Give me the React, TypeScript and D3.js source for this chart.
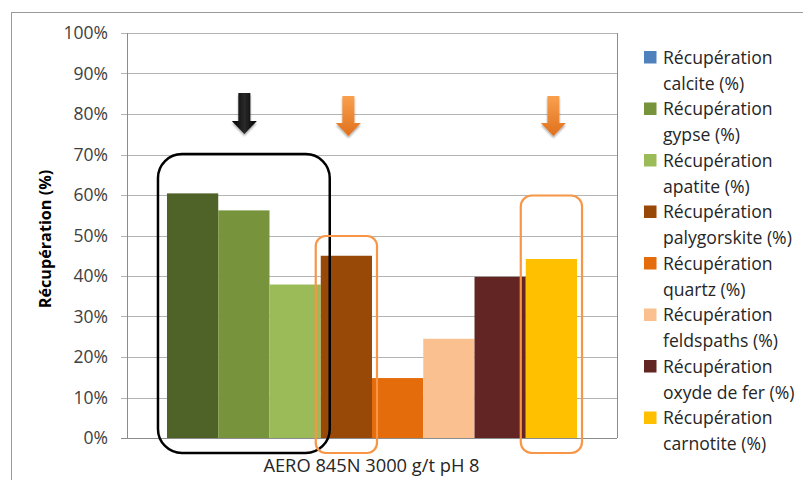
import React from "react";
import * as d3 from "d3";

const categoryLabel = "AERO 845N 3000 g/t pH 8";
const seriesNames = [
  "calcite",
  "gypse",
  "apatite",
  "palygorskite",
  "quartz",
  "feldspaths",
  "oxyde de fer",
  "carnotite",
];
const seriesValues = [60.4, 56.2, 37.9, 45.0, 14.8, 24.5, 39.8, 44.2];
const barColors = ["#4F6228", "#77933C", "#9BBB59", "#984807", "#E46C0A", "#FAC090", "#632523", "#FFC000"];
const legendColors = ["#4F81BD", "#77933C", "#9BBB59", "#984807", "#E46C0A", "#FAC090", "#632523", "#FFC000"];
const yTicks = [0, 10, 20, 30, 40, 50, 60, 70, 80, 90, 100];
const yTitle = "Récupération (%)";
// highlighted series: black box around first three, orange boxes around palygorskite & carnotite
const blackGroup = [0, 1, 2];
const orangeGroups = [[3], [7]];
const blackArrowOn = 1;
const orangeArrowsOn = [3, 7];

const FONT = "'Open Sans', sans-serif";

export default function App() {
  const W = 803, H = 480;
  const left = 127, right = 617, top = 33, bottom = 438;
  const y = d3.scaleLinear().domain([0, 100]).range([bottom, top]);
  const x = d3
    .scaleBand<number>()
    .domain(d3.range(seriesNames.length))
    .range([left, right])
    .paddingInner(0)
    .paddingOuter(0.78);
  const bw = x.bandwidth();

  const boxAround = (idx: number[], topY: number, r: number, pad: number) => {
    const x0 = (x(idx[0]) as number) - pad;
    const x1 = (x(idx[idx.length - 1]) as number) + bw + pad;
    return { x: x0, y: topY, w: x1 - x0, h: 453 - topY, r };
  };
  const bb = boxAround(blackGroup, 154, 24, 9);
  const ob = [boxAround(orangeGroups[0], 236, 10, 5), boxAround(orangeGroups[1], 195.5, 11, 5)];

  const arrow = (cx: number, yTop: number, yBot: number) => {
    const sw = 6, hw = 12.5, hh = 13;
    return `M${cx - sw},${yTop} L${cx + sw},${yTop} L${cx + sw},${yBot - hh} L${cx + hw},${yBot - hh} L${cx},${yBot} L${cx - hw},${yBot - hh} L${cx - sw},${yBot - hh} Z`;
  };

  const legendX = 644, legendY0 = 57.5, itemPitch = 51.5, linePitch = 26;

  return (
    <svg width={W} height={H} style={{ position: "absolute", left: 0, top: 0, background: "#fff" }}>
      <defs>
        <linearGradient id="og" x1="0" y1="0" x2="0" y2="1">
          <stop offset="0" stopColor="#F9A04E" />
          <stop offset="1" stopColor="#E0701C" />
        </linearGradient>
        <linearGradient id="bg" x1="0" y1="0" x2="1" y2="0">
          <stop offset="0" stopColor="#000" />
          <stop offset="0.5" stopColor="#2a2a2a" />
          <stop offset="1" stopColor="#000" />
        </linearGradient>
        <filter id="sh" x="-50%" y="-50%" width="200%" height="200%">
          <feGaussianBlur in="SourceAlpha" stdDeviation="1.2" />
          <feOffset dx="0" dy="1.5" result="b" />
          <feComponentTransfer><feFuncA type="linear" slope="0.35" /></feComponentTransfer>
          <feMerge><feMergeNode /><feMergeNode in="SourceGraphic" /></feMerge>
        </filter>
      </defs>
      <rect x={0} y={0} width={W} height={H} fill="#fff" />
      {/* outer chart border */}
      <rect x={11.5} y={12.5} width={W + 20} height={H + 20} fill="none" stroke="#9a9a9a" strokeWidth={1} />
      {/* gridlines */}
      {yTicks.map((t) => (
        <line key={t} x1={left - 6} x2={right} y1={Math.round(y(t)) + 0.5} y2={Math.round(y(t)) + 0.5} stroke={t === 0 ? "#8c8c8c" : "#b4b4b4"} strokeWidth={1} />
      ))}
      <line x1={left + 0.5} x2={left + 0.5} y1={top} y2={bottom} stroke="#8c8c8c" />
      <line x1={right + 0.5} x2={right + 0.5} y1={top} y2={bottom} stroke="#8c8c8c" />
      {yTicks.map((t) => (
        <text key={"l" + t} x={108} y={y(t)} dy="0.36em" textAnchor="end" fontFamily={FONT} fontSize={17.5} fill="#404040">
          {t}%
        </text>
      ))}
      <text transform={`translate(51,239) rotate(-90)`} textAnchor="middle" fontFamily={FONT} fontSize={16.2} fontWeight="bold" fill="#000">
        {yTitle}
      </text>
      {/* bars */}
      {seriesValues.map((v, i) => (
        <rect key={i} x={x(i)} y={y(v)} width={bw} height={bottom - y(v)} fill={barColors[i]} />
      ))}
      <text x={371.5} y={465} dy="0.36em" textAnchor="middle" fontFamily={FONT} fontSize={18.3} fill="#262626">
        {categoryLabel}
      </text>
      {/* highlight boxes */}
      <rect x={bb.x} y={bb.y} width={bb.w} height={bb.h} rx={bb.r} fill="none" stroke="#000" strokeWidth={2.5} />
      {ob.map((b, i) => (
        <rect key={i} x={b.x} y={b.y} width={b.w} height={b.h} rx={b.r} fill="none" stroke="#F79646" strokeWidth={2.2} />
      ))}
      {/* arrows */}
      <path d={arrow((x(blackArrowOn) as number) + bw / 2 + 0.5, 93, 134)} fill="url(#bg)" filter="url(#sh)" />
      {orangeArrowsOn.map((i) => (
        <path key={i} d={arrow((x(i) as number) + bw / 2 + 2, 96, 136)} fill="url(#og)" filter="url(#sh)" />
      ))}
      {/* legend */}
      {seriesNames.map((n, i) => {
        const cy = legendY0 + i * itemPitch;
        return (
          <g key={n}>
            <rect x={legendX} y={cy - 6.5} width={12.5} height={12.5} fill={legendColors[i]} />
            <text x={663} y={cy} dy="0.36em" fontFamily={FONT} fontSize={17.6} fill="#262626">Récupération</text>
            <text x={663} y={cy + linePitch} dy="0.36em" fontFamily={FONT} fontSize={17.6} fill="#262626">{n} (%)</text>
          </g>
        );
      })}
    </svg>
  );
}
